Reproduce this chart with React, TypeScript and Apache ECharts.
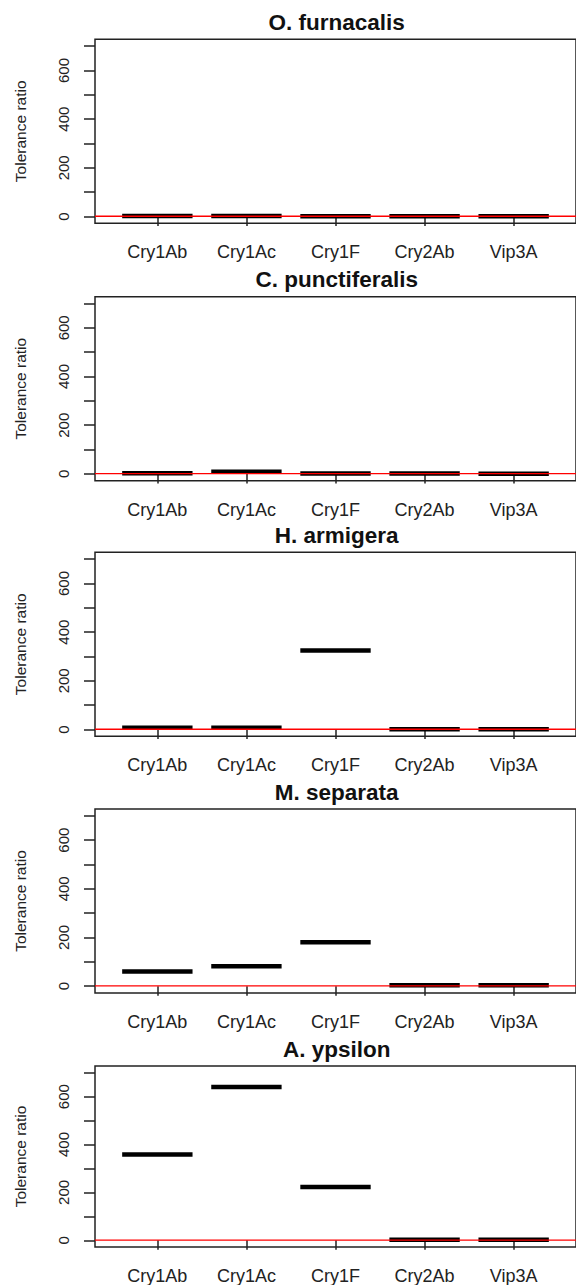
import React, { useEffect, useRef } from "react";
import * as echarts from "echarts";

const categories = ["Cry1Ab", "Cry1Ac", "Cry1F", "Cry2Ab", "Vip3A"];
const species = ["O. furnacalis", "C. punctiferalis", "H. armigera", "M. separata", "A. ypsilon"];

const furnacalisValues = [1.5, 1.5, 1.3, 1.2, 1.0];
const punctiferalisValues = [3, 9, 1.5, 1.2, 1.0];
const armigeraValues = [7, 7, 325, 1.2, 1.0];
const separataValues = [60, 82, 181, 4, 4];
const ypsilonValues = [358, 640, 223, 2, 2];

const panelValues = [furnacalisValues, punctiferalisValues, armigeraValues, separataValues, ypsilonValues];

const yTicks = [0, 100, 200, 300, 400, 500, 600, 700];
const yLabels = [0, 200, 400, 600];
const xPositions = [1, 2, 3, 4, 5];
const referenceLevel = 1;

const FONT = "'Liberation Sans', Arial, sans-serif";

export default function App() {
  const ref = useRef<HTMLDivElement>(null);
  useEffect(() => {
    if (!ref.current) return;
    const chart = echarts.init(ref.current, null, { renderer: "svg" });
    const tops = [39.3, 296.7, 552.3, 809, 1066];
    const gridH = 184;
    const gridLeft = 95;
    const gridW = 483.4;

    const grids = tops.map((t) => ({
      left: gridLeft,
      top: t,
      width: gridW,
      height: gridH,
      show: true,
      borderColor: "#222",
      borderWidth: 1.5,
      backgroundColor: "transparent",
    }));

    const xAxes = tops.map((_, i) => ({
      type: "value",
      gridIndex: i,
      min: 0.3,
      max: 5.7,
      axisLine: { show: false },
      splitLine: { show: false },
      axisTick: {
        show: true,
        customValues: xPositions,
        length: 9.5,
        lineStyle: { color: "#222", width: 1.5 },
      },
      axisLabel: {
        show: true,
        customValues: xPositions,
        formatter: (v: number) => categories[Math.round(v) - 1] ?? "",
        fontFamily: FONT,
        fontSize: 18,
        color: "#222",
        margin: 20,
      },
    }));

    const yAxes = tops.map((_, i) => ({
      type: "value",
      gridIndex: i,
      min: -28,
      max: 728,
      name: "Tolerance ratio",
      nameLocation: "middle",
      nameGap: 67,
      nameTextStyle: { fontFamily: FONT, fontSize: 15.5, color: "#222" },
      axisLine: { show: false },
      splitLine: { show: false },
      axisTick: {
        show: true,
        customValues: yTicks,
        length: 11,
        lineStyle: { color: "#222", width: 1.5 },
      },
      axisLabel: { show: false },
    }));

    const series: any[] = [];
    panelValues.forEach((vals, i) => {
      series.push({
        type: "custom",
        xAxisIndex: i,
        yAxisIndex: i,
        data: vals.map((v, j) => [xPositions[j], v]),
        encode: { x: 0, y: 1 },
        renderItem: (params: any, api: any) => {
          const x = api.value(0);
          const v = api.value(1);
          const p = api.coord([x, v]);
          const w = api.size([0.79, 0])[0];
          return {
            type: "line",
            shape: { x1: p[0] - w / 2, y1: p[1], x2: p[0] + w / 2, y2: p[1] },
            style: { stroke: "#000", lineWidth: 4.5 },
          };
        },
        z: 2,
      });
      series.push({
        type: "line",
        xAxisIndex: i,
        yAxisIndex: i,
        data: [
          [0.3, referenceLevel],
          [5.7, referenceLevel],
        ],
        symbol: "none",
        lineStyle: { color: "#ff0000", width: 1.3 },
        z: 3,
        silent: true,
      });
    });

    const titles = species.map((s, i) => ({
      type: "text",
      x: gridLeft + gridW / 2,
      y: tops[i] - 17,
      style: {
        text: s,
        fontFamily: FONT,
        fontWeight: "bold",
        fontSize: 22.5,
        fill: "#111",
        textAlign: "center",
        textVerticalAlign: "middle",
      },
    }));

    chart.setOption({
      animation: false,
      backgroundColor: "#fff",
      grid: grids,
      xAxis: xAxes,
      yAxis: yAxes,
      series,
      graphic: titles,
    });

    const yLabelTexts: any[] = [];
    tops.forEach((_, i) => {
      yLabels.forEach((v) => {
        const p = chart.convertToPixel({ gridIndex: i } as any, [0.3, v]) as number[];
        yLabelTexts.push({
          type: "text",
          x: p[0] - 32,
          y: p[1],
          rotation: Math.PI / 2,
          style: {
            text: String(v),
            fontFamily: FONT,
            fontSize: 15,
            fill: "#222",
            textAlign: "center",
            textVerticalAlign: "middle",
          },
        });
      });
    });
    chart.setOption({ graphic: [...titles, ...yLabelTexts] });

    return () => chart.dispose();
  }, []);
  return (
    <div
      ref={ref}
      style={{ position: "absolute", left: 0, top: 0, width: 576, height: 1285 }}
    />
  );
}
